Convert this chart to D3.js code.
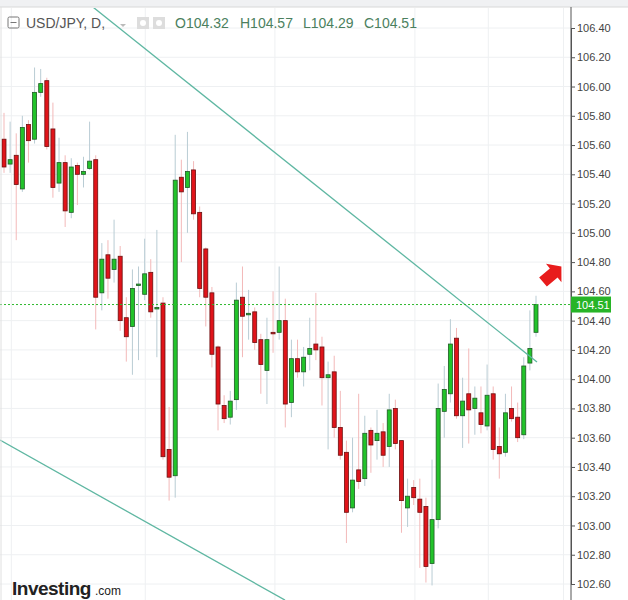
<!DOCTYPE html>
<html><head><meta charset="utf-8">
<script src="https://cdn.jsdelivr.net/npm/d3@7"></script>
<style>body{margin:0;background:#fff;font-family:"Liberation Sans",Arial,sans-serif}</style>
</head><body><div id="chart"></div>
<script>
const opens  = [105.64,105.47,105.53,105.30,105.74,105.64,105.96,106.04,105.71,105.34,105.48,105.14,105.46,105.40,105.44,105.50,104.59,104.85,104.75,104.84,104.42,104.36,104.64,104.58,104.73,104.48,104.52,103.52,103.34,105.38,105.31,105.43,105.14,104.89,104.59,104.22,103.82,103.74,103.86,104.56,104.44,104.46,104.27,104.06,104.32,104.32,104.40,103.84,104.14,104.05,104.17,104.24,104.22,104.01,104.05,103.67,103.50,103.12,103.38,103.32,103.65,103.58,103.64,103.54,103.80,103.58,103.12,103.26,103.18,103.13,102.74,103.04,103.78,103.90,104.28,103.75,103.90,103.80,103.77,103.68,103.90,103.54,103.50,103.80,103.74,103.62,104.11,104.32];
const highs  = [105.82,105.76,105.68,105.80,105.77,106.13,106.12,106.06,105.89,105.65,105.53,105.51,105.48,105.52,105.76,105.53,104.93,104.95,105.09,104.91,104.56,104.75,104.77,104.96,104.82,105.02,104.56,103.81,105.67,105.50,105.69,105.49,105.18,104.90,104.63,104.23,103.89,103.92,104.66,104.77,104.61,104.49,104.31,104.42,104.60,104.77,104.55,104.27,104.27,104.22,104.42,104.59,104.29,104.12,104.16,103.92,103.58,103.60,103.90,103.75,103.67,103.79,103.70,103.90,103.86,103.58,103.32,103.31,103.32,103.19,103.45,103.97,104.09,104.41,104.35,104.01,104.21,103.95,103.95,104.10,103.95,103.67,103.90,103.95,103.84,104.15,104.47,104.57];
const lows   = [105.41,105.41,104.95,105.28,105.48,105.61,105.93,105.57,105.24,105.28,105.04,105.10,105.19,105.31,105.43,104.34,104.47,104.55,104.66,104.33,104.12,104.03,104.13,104.54,104.42,104.15,103.45,103.17,103.19,104.80,105.00,105.09,104.56,104.36,104.08,103.65,103.70,103.69,103.79,104.15,104.27,104.20,103.90,103.83,104.18,104.27,103.67,103.74,104.01,103.95,104.06,104.13,103.82,103.52,103.60,103.45,102.88,103.09,103.25,103.27,103.36,103.45,103.40,103.40,103.52,102.95,102.99,103.14,102.71,102.61,102.59,102.98,103.60,103.84,103.73,103.53,103.56,103.62,103.63,103.65,103.45,103.32,103.47,103.71,103.57,103.59,104.06,104.29];
const closes = [105.45,105.50,105.33,105.72,105.63,105.96,106.02,105.59,105.31,105.48,105.15,105.45,105.40,105.42,105.49,104.56,104.82,104.69,104.82,104.40,104.29,104.62,104.65,104.72,104.46,104.49,103.47,103.33,105.36,105.28,105.42,105.13,104.62,104.56,104.17,103.83,103.73,103.85,104.54,104.43,104.45,104.25,104.10,104.27,104.31,104.40,103.83,104.14,104.05,104.15,104.21,104.20,104.01,104.03,103.67,103.48,103.09,103.31,103.30,103.63,103.55,103.63,103.48,103.79,103.56,103.17,103.20,103.19,103.09,102.72,103.04,103.80,103.93,104.24,103.75,103.85,103.79,103.87,103.69,103.89,103.52,103.49,103.77,103.73,103.60,104.09,104.21,104.51];
const priceTicks = [102.6,102.8,103.0,103.2,103.4,103.6,103.8,104.0,104.2,104.4,104.6,104.8,105.0,105.2,105.4,105.6,105.8,106.0,106.2,106.4];
const gridIdx = [1.2,23.1,44.3,67.2,79.2,91.5];
const upperTrend = [[14.55,106.543],[87.16,104.117]];
const lowerTrend = [[-0.65,103.584],[45.95,102.49]];
const lastPrice = 104.51;

const W=628,H=600, plotR=571;
const svg=d3.select("#chart").append("svg").attr("width",W).attr("height",H);
const x=d3.scaleLinear().domain([0,opens.length-1]).range([4,536]);
const y=d3.scaleLinear().domain([102.6,106.4]).range([584,28]);

svg.append("defs").append("clipPath").attr("id","clip").append("rect").attr("x",0).attr("y",8).attr("width",plotR).attr("height",H-8);
const g=svg.append("g").attr("clip-path","url(#clip)");
g.selectAll(".hg").data(priceTicks).join("line").attr("x1",0).attr("x2",plotR).attr("y1",d=>y(d)).attr("y2",d=>y(d)).attr("stroke","#eef0f2");
g.selectAll(".vg").data(gridIdx).join("line").attr("x1",d=>x(d)).attr("x2",d=>x(d)).attr("y1",8).attr("y2",H).attr("stroke","#eef0f2");

const data=opens.map((o,i)=>({i,o,h:highs[i],l:lows[i],c:closes[i]}));
const bw=4;
g.selectAll(".wick").data(data).join("line").attr("x1",d=>x(d.i)).attr("x2",d=>x(d.i)).attr("y1",d=>y(d.h)).attr("y2",d=>y(d.l))
 .attr("stroke",d=>d.c>=d.o?"#b9ccd4":"#f3b9b9").attr("stroke-width",1);
g.selectAll(".body").data(data).join("rect").attr("x",d=>x(d.i)-bw/2).attr("width",bw)
 .attr("y",d=>y(Math.max(d.o,d.c))).attr("height",d=>Math.max(1.5,Math.abs(y(d.o)-y(d.c))))
 .attr("fill",d=>d.c>=d.o?"#22c32a":"#e0141a").attr("stroke",d=>d.c>=d.o?"#1f5a25":"#6a1010").attr("stroke-width",0.8);

const line=d3.line().x(d=>x(d[0])).y(d=>y(d[1]));
[upperTrend,lowerTrend].forEach(t=>g.append("path").attr("d",line(t)).attr("stroke","#5fb7a2").attr("stroke-width",1.3).attr("fill","none"));
g.append("line").attr("x1",0).attr("x2",plotR).attr("y1",y(lastPrice)).attr("y2",y(lastPrice)).attr("stroke","#2eb82e").attr("stroke-dasharray","2,2");

svg.append("rect").attr("x",0).attr("y",0).attr("width",W).attr("height",7).attr("fill","#f0f1f3");
svg.append("line").attr("x1",0).attr("x2",W).attr("y1",7).attr("y2",7).attr("stroke","#d8d8d8");
svg.append("line").attr("x1",1).attr("x2",1).attr("y1",7).attr("y2",H).attr("stroke","#e0e0e0");

const ax=d3.axisRight(y).tickValues(priceTicks).tickSize(4).tickFormat(d3.format(".2f"));
const axg=svg.append("g").attr("transform",`translate(${plotR},0)`).call(ax);
axg.select(".domain").attr("stroke","#555");
axg.selectAll(".tick line").attr("stroke","#555");
axg.selectAll("text").attr("fill","#444").attr("font-size",11).attr("x",6);
svg.append("line").attr("x1",plotR).attr("x2",plotR).attr("y1",7).attr("y2",H).attr("stroke","#555");

svg.append("rect").attr("x",plotR).attr("y",y(lastPrice)-8).attr("width",40).attr("height",16).attr("fill","#27b427");
svg.append("text").attr("x",plotR+5).attr("y",y(lastPrice)+4).attr("fill","#fff").attr("font-size",11).text(d3.format(".2f")(lastPrice));

svg.append("rect").attr("x",8).attr("y",17).attr("width",11).attr("height",11).attr("fill","none").attr("stroke","#777").attr("rx",1.5);
svg.append("line").attr("x1",10.5).attr("x2",16.5).attr("y1",22.5).attr("y2",22.5).attr("stroke","#777");
svg.append("text").attr("x",26).attr("y",28).attr("font-size",14).attr("fill","#555").text("USD/JPY, D,");
svg.append("path").attr("d","M120,24 l6,0 l-3,3z").attr("fill","#bbb");
svg.append("rect").attr("x",137).attr("y",17).attr("width",12).attr("height",12).attr("fill","#ddd");
svg.append("rect").attr("x",153).attr("y",17).attr("width",12).attr("height",12).attr("fill","#ddd");
svg.append("circle").attr("cx",143).attr("cy",23).attr("r",3).attr("fill","#fff");
svg.append("circle").attr("cx",159).attr("cy",23).attr("r",3).attr("fill","#fff");
const hdr=[["O",opens],["H",highs],["L",lows],["C",closes]];
const hx=[175,240,303,364];
hdr.forEach(([k,arr],j)=>svg.append("text").attr("x",hx[j]).attr("y",28).attr("font-size",14).attr("fill","#4b7f5e").text(k+arr[arr.length-1].toFixed(2)));

svg.append("path").attr("d","M0,-6 L14,-6 L14,-12 L24,0 L14,12 L14,6 L0,6Z").attr("fill","#e81c1c")
 .attr("transform","translate(543,282) rotate(-40)");

svg.append("text").attr("x",12).attr("y",595).attr("font-size",19).attr("font-weight","bold").attr("fill","#222").attr("letter-spacing","-0.5").text("Investing");
svg.append("text").attr("x",95).attr("y",595).attr("font-size",12).attr("fill","#222").text(".com");
</script></body></html>
